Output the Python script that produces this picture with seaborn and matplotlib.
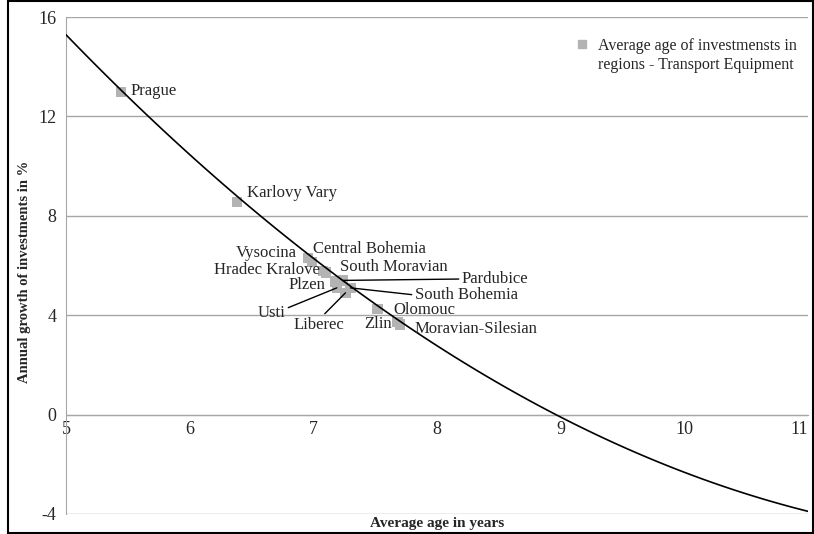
import numpy as np
import pandas as pd
import matplotlib
matplotlib.use("Agg")
import matplotlib.pyplot as plt
import seaborn as sns
from matplotlib.patches import Rectangle
from matplotlib.lines import Line2D

sns.set_style("white")
plt.rcParams["font.family"] = ["Liberation Serif", "DejaVu Serif"]
plt.rcParams["axes.unicode_minus"] = False

# Regions: average age of investments (years) vs annual growth (%)
regions = ["Prague", "Karlovy Vary", "Vysocina", "Central Bohemia", "Hradec Kralove",
           "South Moravian", "Plzen", "Pardubice", "South Bohemia", "Usti",
           "Liberec", "Olomouc", "Zlin", "Moravian-Silesian"]
avg_age = [5.445, 6.38, 6.957, 6.99, 7.08, 7.10, 7.175, 7.24, 7.30, 7.19,
           7.26, 7.52, 7.68, 7.70]
growth = [12.98, 8.56, 6.30, 6.14, 5.78, 5.72, 5.36, 5.40, 5.10, 5.10,
          4.90, 4.25, 3.73, 3.62]

# trend line values at whole years
trend_age = [5, 6, 7, 8, 9, 10, 11]
trend_growth = [15.4, 10.3, 6.3, 2.7, 0.0, -2.2, -4.0]

df = pd.DataFrame({"region": regions, "age": avg_age, "growth": growth})
trend = pd.DataFrame({"age": trend_age, "growth": trend_growth})

# label anchors in figure pixels from the top-left: (x, y, ha, leader relpos)
label_pos = {
    "Prague": (131, 91, "left", None),
    "Karlovy Vary": (247, 193, "left", None),
    "Vysocina": (297, 253, "right", None),
    "Central Bohemia": (313, 249, "left", None),
    "Hradec Kralove": (320, 270, "right", None),
    "South Moravian": (340, 267, "left", None),
    "Plzen": (325, 285, "right", None),
    "Pardubice": (462, 279, "left", (0, 0.5)),
    "South Bohemia": (415, 295, "left", (0, 0.5)),
    "Usti": (285, 313, "right", (1, 0.75)),
    "Liberec": (319, 325, "center", (0.55, 1)),
    "Olomouc": (393, 310, "left", None),
    "Zlin": (392, 324, "right", None),
    "Moravian-Silesian": (415, 329, "left", None),
}

W, H = 814, 534
fig = plt.figure(figsize=(W / 100, H / 100), dpi=100)
ax = fig.add_axes([66 / W, 1 - 514 / H, 742 / W, 497 / H])
ax.set_xlim(5, 11)
ax.set_ylim(-4, 16)

ax.set_yticks([-4, 0, 4, 8, 12, 16])
ax.set_xticks([5, 6, 7, 8, 9, 10, 11])
ax.yaxis.grid(True, color="#a6a6a6", linewidth=1)
ax.set_axisbelow(True)

sns.scatterplot(data=df, x="age", y="growth", marker="s", s=55, color="#b3b3b3",
                edgecolor="none", ax=ax, zorder=3, legend=False)

# polynomial (order 2) trend line
sns.regplot(data=trend, x="age", y="growth", order=2, ci=None, scatter=False,
            truncate=False, ax=ax, line_kws={"color": "black", "linewidth": 1.2, "zorder": 4})

for r, x, y in zip(regions, avg_age, growth):
    px, py, ha, rel = label_pos[r]
    arrow = None
    if rel is not None:
        arrow = dict(arrowstyle="-", color="black", lw=1, shrinkA=0, shrinkB=0, relpos=rel)
    ax.annotate(r, xy=(x, y), xytext=(px, H - py), textcoords="figure pixels",
                ha=ha, va="center", fontsize=12, zorder=5, arrowprops=arrow)

for s in ["top", "right"]:
    ax.spines[s].set_visible(False)
ax.spines["left"].set_color("#a6a6a6")
ax.spines["bottom"].set_color("#a6a6a6")
ax.spines["bottom"].set_position(("data", 0))
ax.tick_params(axis="y", length=4, color="#a6a6a6", labelsize=13, pad=3)
ax.tick_params(axis="x", length=3, direction="inout", color="#a6a6a6", labelsize=13, pad=3)
# keep the last tick label inside the frame
ax.get_xticklabels()[-1].set_horizontalalignment("right")
ax.get_xticklabels()[-1].set_x(11.03)

ax.set_xlabel("")
ax.set_ylabel("")
fig.text(437 / W, 1 - 524 / H, "Average age in years", ha="center", va="center",
         fontsize=11, fontweight="bold")
fig.text(25 / W, 1 - 272 / H, "Annual growth of investments in %", ha="center",
         va="center", rotation=90, fontsize=10.5, fontweight="bold")

h1 = Line2D([], [], marker="s", color="#b3b3b3", linestyle="none", markersize=6)
h2 = Line2D([], [], linestyle="none")
ax.legend(handles=[h1, h2],
          labels=["Average age of investmensts in", "regions - Transport Equipment"],
          loc="upper left", bbox_to_anchor=(576 / W, 1 - 38 / H), bbox_transform=fig.transFigure,
          frameon=False, fontsize=11.5, handlelength=0.8, handletextpad=0.6,
          labelspacing=0.2, borderaxespad=0, borderpad=0)

fig.patches.append(Rectangle((8 / W, 0.002), 805 / W, 0.996, transform=fig.transFigure,
                             fill=False, edgecolor="black", linewidth=1.5))

fig.savefig("out.png", dpi=100)
